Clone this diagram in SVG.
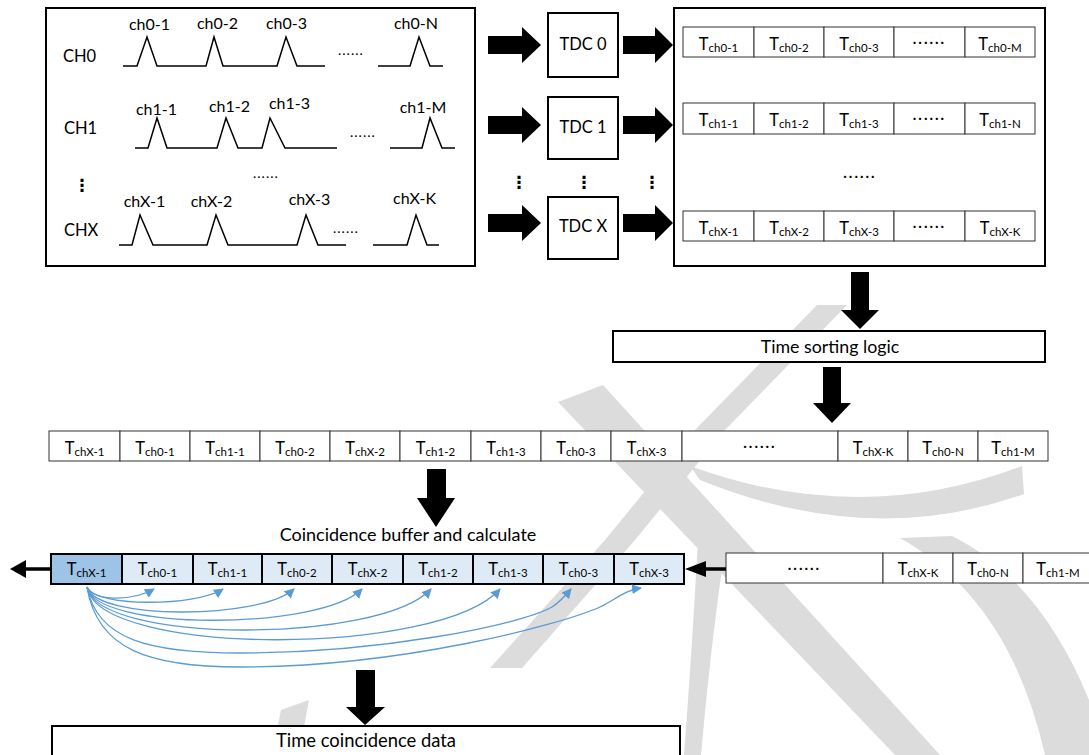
<svg xmlns="http://www.w3.org/2000/svg" width="1089" height="755" viewBox="0 0 1089 755">
<defs>
<style>
.box{fill:#fff;stroke:#000;stroke-width:2}
.cell{fill:#fff;stroke:#333;stroke-width:1}
.ccell{fill:#deebf7;stroke:#000;stroke-width:2}
.chead{fill:#9dc3e6;stroke:#000;stroke-width:2}
.lbl{font-family:Lato,'Liberation Sans',sans-serif;font-size:16px;fill:#000}
.mid{text-anchor:middle}
.t{font-family:Lato,'Liberation Sans',sans-serif;font-size:16.5px;fill:#000;text-anchor:middle}
.sub{font-size:11.5px}
.dots{font-family:Lato,'Liberation Sans',sans-serif;font-size:15px;font-weight:bold;letter-spacing:2px;text-anchor:middle}
.sdots{font-family:Lato,'Liberation Sans',sans-serif;font-size:14px;letter-spacing:1px}
.vd{font-family:'DejaVu Sans',sans-serif;font-size:17px;font-weight:bold;text-anchor:middle}
.pulse{fill:none;stroke:#000;stroke-width:1.5}
.blk{fill:#000}
.thin{fill:none;stroke:#000;stroke-width:3.5}
.arc{fill:none;stroke:#5b9bd5;stroke-width:1.3;marker-end:url(#ah)}
.wm{fill:#dcdcdc}
</style>
<marker id="ah" viewBox="0 0 10 10" refX="9" refY="5" markerWidth="10" markerHeight="10" markerUnits="userSpaceOnUse" orient="auto">
<path d="M0,0 L10,5 L0,10 Z" fill="#5b9bd5"/>
</marker>
</defs>
<rect width="1089" height="755" fill="#fff"/>

<g id="watermark">
<polygon class="wm" points="817,305 847,305 725,430 635,540 522,668 490,668 605,540 695,430"/>
<polygon class="wm" points="558,402 603,385 940,755 895,755"/>
<path class="wm" d="M690,466 Q860,528 1022,466 L1024,494 Q870,549 700,480 Z"/>
<path class="wm" d="M900,538 Q1010,600 1045,755 L1089,755 L1089,700 Q1040,580 952,536 Z"/>
<path class="wm" d="M698,540 Q692,650 684,755 L701,755 Q710,650 726,540 Z"/>
<polygon class="wm" points="272,755 281,710 309,700 299,755"/>
</g>

<g id="signals">
<rect class="box" x="46" y="8" width="429" height="258"/>
<text class="lbl" x="63" y="62" style="font-size:16.5px">CH0</text>
<text class="lbl" x="64" y="134" style="font-size:16.5px">CH1</text>
<text class="lbl" x="64" y="236" style="font-size:16.5px">CHX</text>
<text class="lbl mid" x="149.5" y="30">ch0-1</text>
<text class="lbl mid" x="217.5" y="29">ch0-2</text>
<text class="lbl mid" x="286.5" y="29">ch0-3</text>
<text class="lbl mid" x="416" y="29">ch0-N</text>
<text class="lbl mid" x="156.5" y="115">ch1-1</text>
<text class="lbl mid" x="229.5" y="112">ch1-2</text>
<text class="lbl mid" x="289.5" y="109">ch1-3</text>
<text class="lbl mid" x="423" y="113">ch1-M</text>
<text class="lbl mid" x="144.5" y="207">chX-1</text>
<text class="lbl mid" x="211.5" y="207">chX-2</text>
<text class="lbl mid" x="309.5" y="205">chX-3</text>
<text class="lbl mid" x="414.5" y="204">chX-K</text>
<polyline class="pulse" points="123,66 137,66 147,37 157,66 206,66 214,37 223,66 277,66 286,37 297,66 325,66"/>
<polyline class="pulse" points="378,66 410,66 419,37 430,66 443,66"/>
<polyline class="pulse" points="135,148 148,148 157,118 167,148 217,148 226,118 238,148 262,148 270,118 285,148 337,148"/>
<polyline class="pulse" points="390,148 422,148 430,118 442,148 455,148"/>
<polyline class="pulse" points="119,245 132,245 140,215 153,245 207,245 216,215 228,245 297,245 306,215 318,245 346,245"/>
<polyline class="pulse" points="373,245 407,245 416,215 427,245 439,245"/>
<text class="sdots" x="338" y="55">......</text>
<text class="sdots" x="350" y="137">......</text>
<text class="sdots" x="333" y="233">......</text>
<text class="sdots" x="253" y="178">......</text>
<text class="vd" x="82" y="191">⋮</text>
</g>

<g id="tdc0">
<rect class="box" x="548" y="13" width="70" height="64"/>
<text class="lbl mid" x="583" y="50" style="font-size:16.5px">TDC 0</text>
</g>
<g id="tdc1">
<rect class="box" x="548" y="97" width="70" height="62"/>
<text class="lbl mid" x="583" y="133" style="font-size:16.5px">TDC 1</text>
</g>
<g id="tdcx">
<rect class="box" x="548" y="197" width="70" height="62"/>
<text class="lbl mid" x="583" y="232" style="font-size:16.5px">TDC X</text>
</g>
<g id="vdots">
<text class="vd" x="519" y="188">⋮</text>
<text class="vd" x="584" y="188">⋮</text>
<text class="vd" x="652" y="188">⋮</text>
</g>

<g id="timestamps">
<rect class="box" x="674" y="8" width="371" height="258"/>
<g>
<rect class="cell" x="683" y="27" width="71" height="30"/><rect class="cell" x="754" y="27" width="70" height="30"/><rect class="cell" x="824" y="27" width="70" height="30"/><rect class="cell" x="894" y="27" width="71" height="30"/><rect class="cell" x="965" y="27" width="70" height="30"/>
<text class="t" x="718.5" y="50">T<tspan class="sub" dy="2">ch0-1</tspan></text>
<text class="t" x="789" y="50">T<tspan class="sub" dy="2">ch0-2</tspan></text>
<text class="t" x="859" y="50">T<tspan class="sub" dy="2">ch0-3</tspan></text>
<text class="dots" x="929.5" y="44">......</text>
<text class="t" x="1000" y="50">T<tspan class="sub" dy="2">ch0-M</tspan></text>
</g>
<g>
<rect class="cell" x="683" y="103" width="71" height="31"/><rect class="cell" x="754" y="103" width="70" height="31"/><rect class="cell" x="824" y="103" width="70" height="31"/><rect class="cell" x="894" y="103" width="71" height="31"/><rect class="cell" x="965" y="103" width="70" height="31"/>
<text class="t" x="718.5" y="126">T<tspan class="sub" dy="2">ch1-1</tspan></text>
<text class="t" x="789" y="126">T<tspan class="sub" dy="2">ch1-2</tspan></text>
<text class="t" x="859" y="126">T<tspan class="sub" dy="2">ch1-3</tspan></text>
<text class="dots" x="929.5" y="120">......</text>
<text class="t" x="1000" y="126">T<tspan class="sub" dy="2">ch1-N</tspan></text>
</g>
<text class="dots" x="860" y="178">......</text>
<g>
<rect class="cell" x="683" y="211" width="71" height="30"/><rect class="cell" x="754" y="211" width="70" height="30"/><rect class="cell" x="824" y="211" width="70" height="30"/><rect class="cell" x="894" y="211" width="71" height="30"/><rect class="cell" x="965" y="211" width="70" height="30"/>
<text class="t" x="718.5" y="234">T<tspan class="sub" dy="2">chX-1</tspan></text>
<text class="t" x="789" y="234">T<tspan class="sub" dy="2">chX-2</tspan></text>
<text class="t" x="859" y="234">T<tspan class="sub" dy="2">chX-3</tspan></text>
<text class="dots" x="929.5" y="228">......</text>
<text class="t" x="1000" y="234">T<tspan class="sub" dy="2">chX-K</tspan></text>
</g>
</g>

<g id="sorting">
<rect class="box" x="613" y="331" width="432" height="31"/>
<text class="lbl mid" x="830" y="353" style="font-size:17.8px">Time sorting logic</text>
</g>

<g id="sorted">
<rect class="cell" x="49" y="431" width="71" height="30"/><rect class="cell" x="120" y="431" width="70" height="30"/><rect class="cell" x="190" y="431" width="70" height="30"/><rect class="cell" x="260" y="431" width="70" height="30"/><rect class="cell" x="330" y="431" width="70" height="30"/><rect class="cell" x="400" y="431" width="71" height="30"/><rect class="cell" x="471" y="431" width="70" height="30"/><rect class="cell" x="541" y="431" width="70" height="30"/><rect class="cell" x="611" y="431" width="71" height="30"/><rect class="cell" x="682" y="431" width="156" height="30"/><rect class="cell" x="838" y="431" width="70" height="30"/><rect class="cell" x="908" y="431" width="70" height="30"/><rect class="cell" x="978" y="431" width="70" height="30"/>
<text class="t" x="84.5" y="454">T<tspan class="sub" dy="2">chX-1</tspan></text>
<text class="t" x="155" y="454">T<tspan class="sub" dy="2">ch0-1</tspan></text>
<text class="t" x="225" y="454">T<tspan class="sub" dy="2">ch1-1</tspan></text>
<text class="t" x="295" y="454">T<tspan class="sub" dy="2">ch0-2</tspan></text>
<text class="t" x="365" y="454">T<tspan class="sub" dy="2">chX-2</tspan></text>
<text class="t" x="435.5" y="454">T<tspan class="sub" dy="2">ch1-2</tspan></text>
<text class="t" x="506" y="454">T<tspan class="sub" dy="2">ch1-3</tspan></text>
<text class="t" x="576" y="454">T<tspan class="sub" dy="2">ch0-3</tspan></text>
<text class="t" x="646.5" y="454">T<tspan class="sub" dy="2">chX-3</tspan></text>
<text class="dots" x="760" y="448">......</text>
<text class="t" x="873" y="454">T<tspan class="sub" dy="2">chX-K</tspan></text>
<text class="t" x="943" y="454">T<tspan class="sub" dy="2">ch0-N</tspan></text>
<text class="t" x="1013" y="454">T<tspan class="sub" dy="2">ch1-M</tspan></text>
</g>

<g id="coincidence-label">
<text class="lbl mid" x="408" y="541" style="font-size:18px">Coincidence buffer and calculate</text>
</g>

<g id="buffer">
<rect class="chead" x="51" y="554" width="71" height="30"/>
<rect class="ccell" x="122" y="554" width="71" height="30"/><rect class="ccell" x="193" y="554" width="69" height="30"/><rect class="ccell" x="262" y="554" width="70" height="30"/><rect class="ccell" x="332" y="554" width="71" height="30"/><rect class="ccell" x="403" y="554" width="70" height="30"/><rect class="ccell" x="473" y="554" width="70" height="30"/><rect class="ccell" x="543" y="554" width="71" height="30"/><rect class="ccell" x="614" y="554" width="70" height="30"/>
<text class="t" x="86.5" y="575">T<tspan class="sub" dy="2">chX-1</tspan></text>
<text class="t" x="157.5" y="575">T<tspan class="sub" dy="2">ch0-1</tspan></text>
<text class="t" x="227.5" y="575">T<tspan class="sub" dy="2">ch1-1</tspan></text>
<text class="t" x="297" y="575">T<tspan class="sub" dy="2">ch0-2</tspan></text>
<text class="t" x="367.5" y="575">T<tspan class="sub" dy="2">chX-2</tspan></text>
<text class="t" x="438" y="575">T<tspan class="sub" dy="2">ch1-2</tspan></text>
<text class="t" x="508" y="575">T<tspan class="sub" dy="2">ch1-3</tspan></text>
<text class="t" x="578.5" y="575">T<tspan class="sub" dy="2">ch0-3</tspan></text>
<text class="t" x="649" y="575">T<tspan class="sub" dy="2">chX-3</tspan></text>
</g>

<g id="incoming">
<rect class="cell" x="726" y="553" width="157" height="30"/><rect class="cell" x="883" y="553" width="70" height="30"/><rect class="cell" x="953" y="553" width="70" height="30"/><rect class="cell" x="1023" y="553" width="70" height="30"/>
<text class="dots" x="804.5" y="570">......</text>
<text class="t" x="918" y="575">T<tspan class="sub" dy="2">chX-K</tspan></text>
<text class="t" x="988" y="575">T<tspan class="sub" dy="2">ch0-N</tspan></text>
<text class="t" x="1058" y="575">T<tspan class="sub" dy="2">ch1-M</tspan></text>
</g>

<g id="output">
<rect class="box" x="52" y="726" width="628" height="40"/>
<text class="lbl mid" x="366" y="747" style="font-size:18.4px">Time coincidence data</text>
</g>

<g id="connectors">
<polygon class="blk" points="488,36 522,36 522,27 541,45 522,63 522,54 488,54"/>
<polygon class="blk" points="488,116 522,116 522,107 541,125 522,143 522,134 488,134"/>
<polygon class="blk" points="488,214 522,214 522,205 541,223 522,241 522,232 488,232"/>
<polygon class="blk" points="623,36 655,36 655,27 673,45 655,63 655,54 623,54"/>
<polygon class="blk" points="623,116 655,116 655,107 673,125 655,143 655,134 623,134"/>
<polygon class="blk" points="623,214 655,214 655,205 673,223 655,241 655,232 623,232"/>
<polygon class="blk" points="851,272 869,272 869,310 879,310 860,329 841,310 851,310"/>
<polygon class="blk" points="823,367 841,367 841,403 851,403 832,423 813,403 823,403"/>
<polygon class="blk" points="427,469 446,469 446,498 455,498 436,527 417,498 427,498"/>
<polygon class="blk" points="356,670 375,670 375,707 385,707 365,725 346,707 356,707"/>
<line class="thin" x1="51" y1="569" x2="24" y2="569"/>
<polygon class="blk" points="26,560 10,569 26,578"/>
<line class="thin" x1="726" y1="569" x2="704" y2="569"/>
<polygon class="blk" points="706,561 685,569 706,577"/>
<path class="arc" d="M87,587 C95,603 135,600 154,589"/>
<path class="arc" d="M87,587 C95,607 195,607 223,589"/>
<path class="arc" d="M87,587 C95,620 260,620 294,589"/>
<path class="arc" d="M87,587 C95,631 320,631 362,589"/>
<path class="arc" d="M87,587 C97,644 380,644 431,589"/>
<path class="arc" d="M87,587 C98,657 440,657 500,589"/>
<path class="arc" d="M87,587 C97,640 150,653 240,653 C380,653 520,625 552,607 C560,602 566,595 571,589"/>
<path class="arc" d="M87,587 C97,650 150,667 240,667 C400,667 560,625 600,607 C615,600 625,590 641,588"/>
</g>
</svg>
